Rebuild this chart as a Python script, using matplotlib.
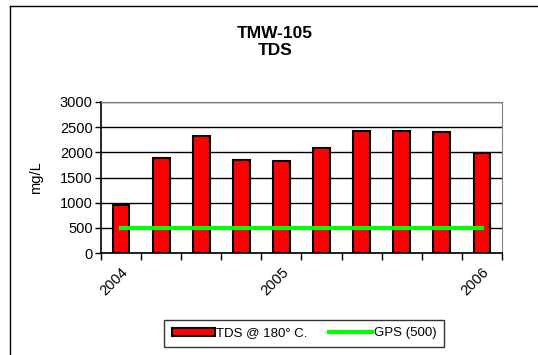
import matplotlib
matplotlib.use('Agg')
import matplotlib.pyplot as plt
from matplotlib.lines import Line2D
import numpy as np

plt.rcParams['font.family'] = ['Liberation Sans', 'DejaVu Sans']

# datos
muestras = ['2004', '', '', '', '2005', '', '', '', '', '2006']
tds = [960, 1880, 2330, 1850, 1830, 2080, 2430, 2420, 2400, 1980]
gps = [500] * len(tds)
y_ticks = [0, 500, 1000, 1500, 2000, 2500, 3000]

fig = plt.figure(figsize=(5.38, 3.55), dpi=100)
ax = fig.add_axes([0.1877, 0.2873, 0.7454, 0.4254])

x = np.arange(len(tds))
barras = ax.bar(x, tds, width=0.42, color='#ff0000', edgecolor='black', linewidth=1.5,
                label='TDS @ 180° C.', zorder=3)
linea, = ax.plot(x, gps, color='#00ff00', linewidth=3, label='GPS (500)', zorder=4)

ax.set_xlim(-0.5, len(tds) - 0.5)
ax.set_ylim(0, 3000)
ax.set_yticks(y_ticks)
ax.yaxis.grid(True, color='black', linewidth=1, zorder=0)
ax.set_axisbelow(True)

# marcas entre categorias
ax.set_xticks(np.arange(-0.5, len(tds), 1.0))
ax.set_xticklabels([])
ax.set_xticks(x, minor=True)
ax.set_xticklabels(muestras, minor=True, rotation=45, ha='right',
                   rotation_mode='anchor', fontsize=10.5)
ax.tick_params(axis='x', which='minor', length=0, pad=9)
ax.tick_params(axis='x', which='major', direction='out', length=5, width=1)
ax.tick_params(axis='y', direction='out', length=4, width=1, labelsize=10.5, pad=2)

for lado in ['top', 'right']:
    ax.spines[lado].set_color('#808080')
for lado in ['left', 'bottom']:
    ax.spines[lado].set_color('black')
    ax.spines[lado].set_linewidth(1.2)

ax.set_ylabel('mg/L', fontsize=10.5, labelpad=12)

fig.text(0.511, 0.882, 'TMW-105\nTDS', ha='center', va='center',
         fontsize=12.5, fontweight='bold', linespacing=1.15)

leg = fig.legend([barras, linea], ['TDS @ 180° C.', 'GPS (500)'],
                 loc='center', bbox_to_anchor=(0.565, 0.0606), ncol=2,
                 fontsize=9.5, frameon=True, fancybox=False, edgecolor='black',
                 handlelength=3.3, handleheight=0.6, columnspacing=1.6,
                 handletextpad=0.1, borderpad=0.6)
leg.get_frame().set_linewidth(1)

# marco exterior del grafico
fig.add_artist(Line2D([10 / 538, 10 / 538], [0, 349 / 355], color='black',
                      linewidth=1, transform=fig.transFigure))
fig.add_artist(Line2D([10 / 538, 1], [349 / 355, 349 / 355], color='black',
                      linewidth=1, transform=fig.transFigure))

fig.savefig('out.png', dpi=100)
